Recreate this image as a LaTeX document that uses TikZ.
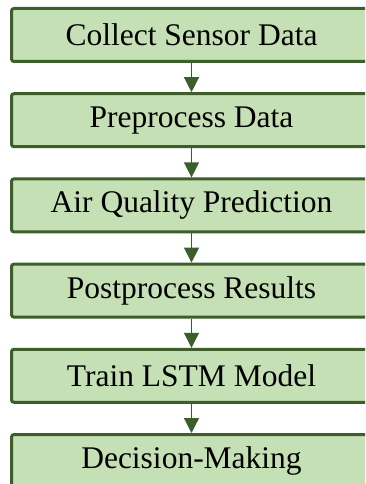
\documentclass[tikz,border=0pt]{standalone}
\usepackage{fontspec}
\setmainfont{Liberation Serif}
\usetikzlibrary{arrows.meta}
\definecolor{boxfill}{HTML}{C5E0B4}
\definecolor{boxline}{HTML}{3B5E2B}
\tikzset{
  stepbox/.style={draw=boxline, fill=boxfill, line width=3pt, rounded corners=2.5pt,
    minimum width=360pt, minimum height=53pt, inner sep=0pt,
    font=\fontsize{31.5}{36}\selectfont},
  flow/.style={draw=boxline, line width=1.3pt, -{Triangle[width=15pt,length=15pt]}}
}
\begin{document}
\begin{tikzpicture}[x=1pt,y=1pt]
\clip (0,0) rectangle (365,-484);
\fill[white] (0,0) rectangle (365,-484);
\node[stepbox] (a) at (191.5,-35) {\raisebox{-1pt}{Collect Sensor Data}};
\node[stepbox] (b) at (191.5,-120.2) {\raisebox{-1pt}{Preprocess Data}};
\node[stepbox] (c) at (191.5,-205.4) {\raisebox{-1pt}{Air Quality Prediction}};
\node[stepbox] (d) at (191.5,-290.6) {\raisebox{-1pt}{Postprocess Results}};
\node[stepbox] (e) at (191.5,-375.8) {\raisebox{-1pt}{Train LSTM Model}};
\node[stepbox] (f) at (191.5,-461) {\raisebox{-1pt}{Decision-Making}};
\draw[flow] (a) -- (b);
\draw[flow] (b) -- (c);
\draw[flow] (c) -- (d);
\draw[flow] (d) -- (e);
\draw[flow] (e) -- (f);
\end{tikzpicture}
\end{document}
